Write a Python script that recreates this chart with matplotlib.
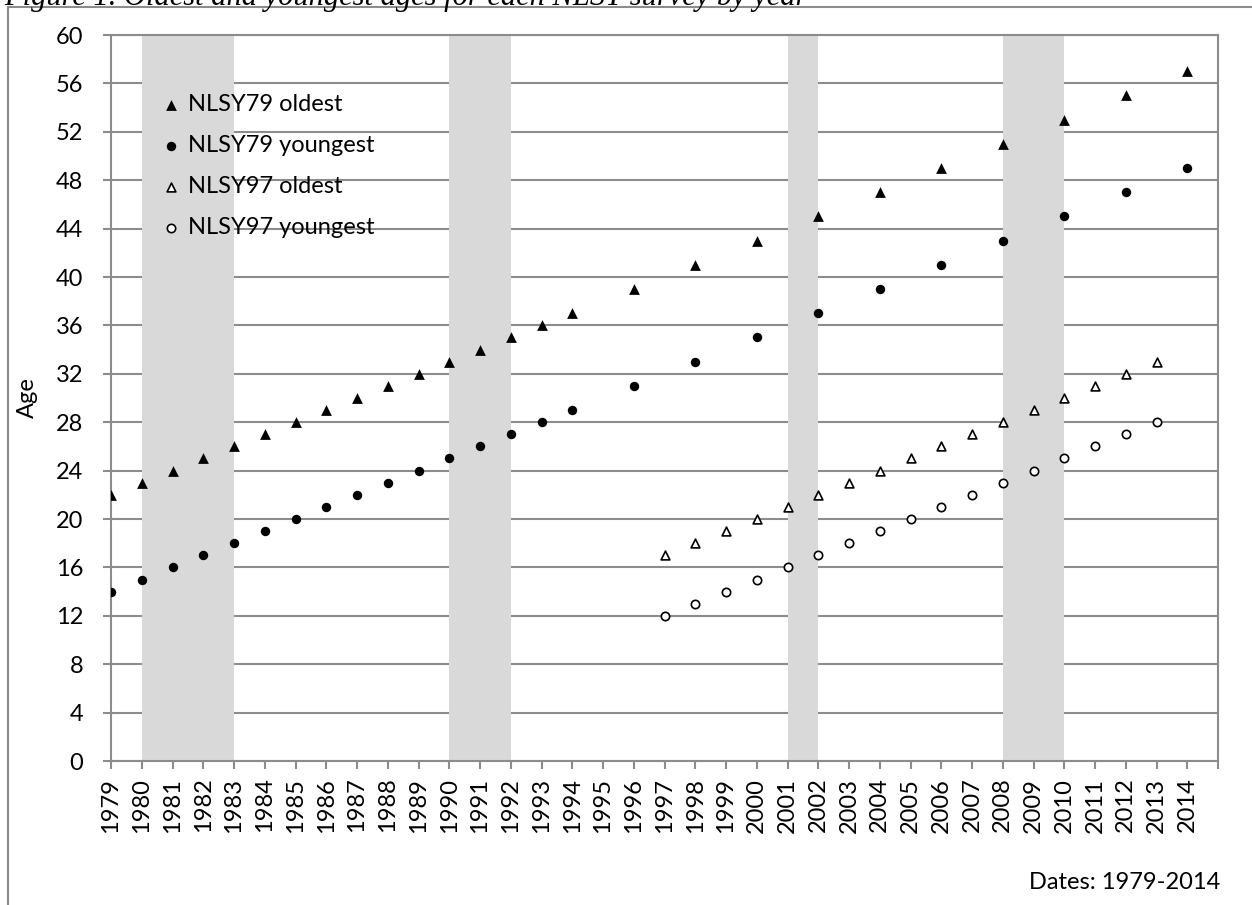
import numpy as np
import matplotlib
matplotlib.use('Agg')
import matplotlib.pyplot as plt
from matplotlib.patches import Rectangle

plt.rcParams['font.family'] = ['Lato', 'DejaVu Sans']

# survey years on the category axis
years = list(range(1979, 2015))

# NLSY79: annual to 1994, then every second year
nlsy79_years = list(range(1979, 1995)) + list(range(1996, 2015, 2))
nlsy79_oldest = [22, 23, 24, 25, 26, 27, 28, 29, 30, 31, 32, 33, 34, 35, 36, 37,
                 39, 41, 43, 45, 47, 49, 51, 53, 55, 57]
nlsy79_youngest = [14, 15, 16, 17, 18, 19, 20, 21, 22, 23, 24, 25, 26, 27, 28, 29,
                   31, 33, 35, 37, 39, 41, 43, 45, 47, 49]

# NLSY97: annual 1997-2013
nlsy97_years = list(range(1997, 2014))
nlsy97_oldest = [17, 18, 19, 20, 21, 22, 23, 24, 25, 26, 27, 28, 29, 30, 31, 32, 33]
nlsy97_youngest = [12, 13, 14, 15, 16, 17, 18, 19, 20, 21, 22, 23, 24, 25, 26, 27, 28]

# recession shading
recessions = [(1980, 1983), (1990, 1992), (2001, 2002), (2008, 2010)]

W, H = 1252, 905
fig = plt.figure(figsize=(W / 100, H / 100), dpi=100)
ax = fig.add_axes([111 / W, 1 - 761 / H, (1218 - 111) / W, (761 - 35) / H])

grey = '#8c8c8c'
fs = 17

for a, b in recessions:
    ax.axvspan(a, b, color='#d9d9d9', lw=0, zorder=1)

ax.scatter(nlsy79_years, nlsy79_oldest, marker='^', s=60, color='black',
           lw=0, zorder=3, label='NLSY79 oldest')
ax.scatter(nlsy79_years, nlsy79_youngest, marker='o', s=46, color='black',
           lw=0, zorder=3, label='NLSY79 youngest')
ax.scatter(nlsy97_years, nlsy97_oldest, marker='^', s=40, facecolor='white',
           edgecolor='black', lw=1.2, zorder=3, label='NLSY97 oldest')
ax.scatter(nlsy97_years, nlsy97_youngest, marker='o', s=36, facecolor='white',
           edgecolor='black', lw=1.2, zorder=3, label='NLSY97 youngest')

ax.set_xlim(1979, 2015)
ax.set_ylim(0, 60)
ax.set_xticks(range(1979, 2016))
ax.set_xticklabels([str(y) for y in years] + [''], rotation=90, fontsize=fs)
ax.set_yticks(range(0, 61, 4))
ax.tick_params(axis='y', labelsize=fs, length=6, width=1.5, color=grey, pad=14)
ax.tick_params(axis='x', length=6, width=1.5, color=grey, pad=6)
ax.set_axisbelow(True)
ax.yaxis.grid(True, color=grey, lw=1.5)
for s in ax.spines.values():
    s.set_color(grey)
    s.set_linewidth(1.5)

ax.set_ylabel('Age', fontsize=fs)
ax.yaxis.set_label_coords((38 - 111) / (1218 - 111), 0.5)

ax.legend(loc='upper left', bbox_to_anchor=(0.033, 0.935), frameon=False,
          fontsize=fs, borderpad=0, handlelength=1.0, handletextpad=0.2,
          labelspacing=0.85, scatterpoints=1)

fig.text(1220 / W, 1 - 882 / H, 'Dates: 1979-2014', ha='right', va='center',
         fontsize=fs)

# outer chart frame, running off the right and bottom edges
fig.add_artist(Rectangle((8 / W, -0.2), 1.5, 1.2 - 7 / H, fill=False,
                         edgecolor=grey, lw=1.5, transform=fig.transFigure))

# caption cut off by the top of the image, as in the source page
fig.text(4 / W, 1 - 5 / H, 'Figure 1. Oldest and youngest ages for each NLSY survey by year',
         ha='left', va='baseline', fontsize=22, style='italic',
         family='Liberation Serif')

fig.savefig('out.png', dpi=100)
